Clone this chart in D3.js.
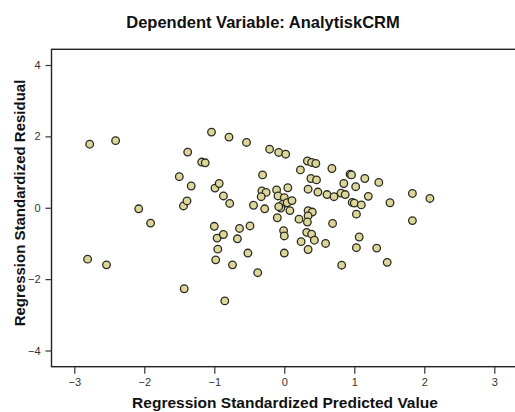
<!DOCTYPE html>
<html>
<head>
<meta charset="utf-8">
<script src="https://cdn.jsdelivr.net/npm/d3@7"></script>
<style>
  body { margin: 0; background: #fff; }
  svg { display: block; font-family: "Liberation Sans", Arial, sans-serif; }
</style>
</head>
<body>
<div id="chart"></div>
<script>
const width = 515;
const height = 412;

const title = "Dependent Variable: AnalytiskCRM";
const xLabel = "Regression Standardized Predicted Value";
const yLabel = "Regression Standardized Residual";

const xTicks = [-3, -2, -1, 0, 1, 2, 3];
const yTicks = [-4, -2, 0, 2, 4];

// standardized predicted value
const predicted = [
  -2.81, -2.78, -2.54, -2.41, -2.08, -1.91, -1.50, -1.44, -1.39, -1.38,
  -1.33, -1.43, -1.18, -1.13, -1.04, -0.99, -0.93, -0.87, -0.79, -0.78,
  -1.00, -0.96, -0.87, -0.95, -0.98, -0.74, -0.85, -0.67, -0.64, -0.54,
  -0.49, -0.52, -0.44, -0.38, -0.32, -0.26, -0.33, -0.31, -0.28, -0.21,
  -0.11, -0.09, -0.08, 0.02, 0.05, 0.00, -0.02, 0.04, 0.11, -0.05,
  0.08, -0.10, -0.01, 0.00, 0.00, 0.23, 0.33, 0.39, 0.45, 0.38,
  0.46, 0.34, 0.48, 0.34, 0.40, 0.34, 0.33, 0.21, 0.32, 0.39,
  0.24, 0.43, 0.34, 0.59, 0.61, 0.68, 0.69, 0.71, 0.81, 0.87,
  0.82, 0.85, 0.94, 0.96, 0.97, 1.00, 1.02, 1.03, 1.03, 1.07,
  1.10, 1.15, 1.20, 1.32, 1.35, 1.47, 1.51, 1.83, 1.83, 2.08,
  -0.08
];

// standardized residual
const residual = [
  -1.44, 1.78, -1.60, 1.88, -0.03, -0.43, 0.87, 0.05, 0.19, 1.56,
  0.61, -2.27, 1.28, 1.26, 2.12, 0.55, 0.68, 0.33, 1.98, 0.12,
  -0.52, -0.85, -0.75, -1.16, -1.46, -1.60, -2.61, -0.87, -0.58, 1.83,
  -0.51, -1.27, 0.07, -1.82, 0.47, 0.43, 0.31, 0.92, -0.03, 1.64,
  0.50, 0.33, 1.55, 1.50, 0.56, 0.28, 0.10, 0.14, 0.20, -0.01,
  -0.08, -0.28, -0.64, -0.79, -1.27, 1.06, 1.31, 1.27, 1.24, 0.82,
  0.78, 0.52, 0.44, -0.08, -0.12, -0.23, -0.40, -0.32, -0.69, -0.74,
  -0.95, -0.91, -1.17, -1.00, 0.37, 1.10, -0.44, 0.31, 0.41, 0.37,
  -1.61, 0.68, 0.94, 0.92, 0.15, 0.13, 0.59, -0.18, -1.12, -0.82,
  0.08, 0.82, 0.32, -1.13, 0.71, -1.53, 0.14, 0.40, -0.36, 0.26,
  0.03
];

const points = predicted.map((p, i) => ({ x: p, y: residual[i] }));

const frame = { left: 51.5, top: 49.3, right: 522, bottom: 366.7 };

const x = d3.scaleLinear().domain([-3, 3]).range([74.3, 494.3]);
const y = d3.scaleLinear().domain([-4, 4]).range([350.5, 65]);

const svg = d3.select("#chart")
  .append("svg")
  .attr("width", width)
  .attr("height", height);

// Title
svg.append("text")
  .attr("x", 263)
  .attr("y", 28)
  .attr("text-anchor", "middle")
  .attr("font-size", "16.5px")
  .attr("font-weight", "bold")
  .attr("fill", "#111")
  .text(title);

// Frame
svg.append("rect")
  .attr("x", frame.left)
  .attr("y", frame.top)
  .attr("width", frame.right - frame.left)
  .attr("height", frame.bottom - frame.top)
  .attr("fill", "none")
  .attr("stroke", "#222")
  .attr("stroke-width", 1.4);

// Axes
const xAxis = svg.append("g")
  .attr("transform", `translate(0,${frame.bottom})`)
  .call(d3.axisBottom(x).tickValues(xTicks).tickSize(7).tickPadding(5).tickFormat(d3.format("d")));

const yAxis = svg.append("g")
  .attr("transform", `translate(${frame.left},0)`)
  .call(d3.axisLeft(y).tickValues(yTicks).tickSize(6).tickPadding(5).tickFormat(d3.format("d")));

[xAxis, yAxis].forEach(g => {
  g.select(".domain").remove();
  g.selectAll(".tick line").attr("stroke", "#333").attr("stroke-width", 1.2);
  g.selectAll(".tick text")
    .attr("font-size", "11px")
    .attr("fill", "#333")
    .attr("font-family", "Liberation Sans, Arial, sans-serif");
});

// Axis titles
svg.append("text")
  .attr("x", 285)
  .attr("y", 408)
  .attr("text-anchor", "middle")
  .attr("font-size", "15.5px")
  .attr("font-weight", "bold")
  .attr("fill", "#111")
  .text(xLabel);

svg.append("text")
  .attr("transform", `translate(25,203) rotate(-90)`)
  .attr("text-anchor", "middle")
  .attr("font-size", "15px")
  .attr("font-weight", "bold")
  .attr("fill", "#111")
  .text(yLabel);

// Points
svg.append("g")
  .selectAll("circle")
  .data(points)
  .enter()
  .append("circle")
  .attr("cx", d => x(d.x))
  .attr("cy", d => y(d.y))
  .attr("r", 3.8)
  .attr("fill", "#dcd69b")
  .attr("stroke", "#2b2b22")
  .attr("stroke-width", 1.3);
</script>
</body>
</html>
